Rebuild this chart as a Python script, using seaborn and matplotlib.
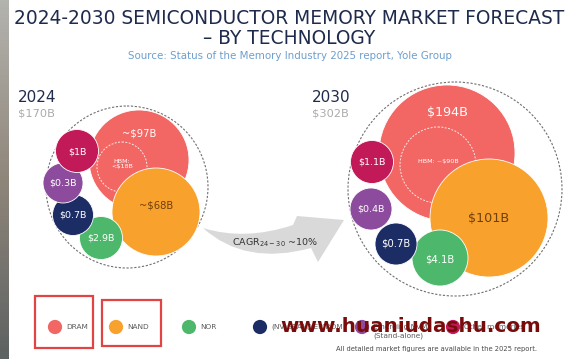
import numpy as np
import matplotlib
matplotlib.use("Agg")
import matplotlib.pyplot as plt
from matplotlib.patches import Circle, PathPatch, Rectangle
from matplotlib.path import Path
from matplotlib.colors import LinearSegmentedColormap
import seaborn as sns
import pandas as pd

sns.set_theme(style="white")
plt.rcParams["font.family"] = ["DejaVu Sans"]

# ---- data -------------------------------------------------------------
techs = ["DRAM", "NAND", "NOR", "(NV)SRAM/(EP)ROM", "Emerging NVM", "Other memories"]
years = ["2024", "2030"]
totals = ["$170B", "$302B"]
labels_2024 = ["~$97B", "~$68B", "$2.9B", "$0.7B", "$0.3B", "$1B"]
labels_2030 = ["$194B", "$101B", "$4.1B", "$0.7B", "$0.4B", "$1.1B"]
hbm_labels = ["HBM:\n<$18B", "HBM: ~$90B"]
cagr_text = r"CAGR$_{\mathregular{24-30}}$ ~10%"

colors = ["#f26663", "#f9a12d", "#4db86b", "#1c2d66", "#8c4b9c", "#c21a59"]
label_colors = ["white", "#6e3f0c", "white", "white", "white", "white"]

# ---- layout (pixel space) --------------------------------------------
# bubble centre x, centre y, radius per technology
pos_2024 = [(139, 160, 50), (156, 212, 44), (101, 238, 21.5), (73, 215, 20.5), (63, 183, 20), (77, 151, 21.5)]
pos_2030 = [(447, 153, 68), (489, 218, 59), (440, 258, 28), (396, 244, 21), (371, 209, 21), (372, 162, 21.5)]
fs_2024 = [7.2, 7.2, 6.8, 6.8, 6.8, 6.8]
fs_2030 = [9.2, 9.2, 7.2, 7.2, 6.8, 6.8]
label_dy_2024 = [-26, -6, 0, 0, 0, 1]
label_dy_2030 = [-40, 0, 1, 0, 0, 0]
hbm_pos = [(122, 167, 25), (438, 165, 38)]
outer = [(127, 187, 81), (455, 189, 107)]
year_xy = [(18, 97), (312, 97)]

fig = plt.figure(figsize=(5.7, 3.59), dpi=100)
ax = fig.add_axes([0, 0, 1, 1])
ax.set_xlim(0, 570)
ax.set_ylim(359, 0)
ax.axis("off")

# grey strip on the left edge of the screenshot
strip = LinearSegmentedColormap.from_list("strip", ["#b3b3ae", "#8f867a", "#5d6262"])
ax.imshow(np.linspace(0, 1, 100).reshape(-1, 1), cmap=strip, aspect="auto",
          extent=(0, 9, 359, 0), zorder=0)

# titles
navy = "#1f2b4c"
ax.text(289, 18, "2024-2030 SEMICONDUCTOR MEMORY MARKET FORECAST", ha="center", va="center",
        fontsize=13.4, color=navy)
ax.text(289.5, 38, "\u2013 BY TECHNOLOGY", ha="center", va="center", fontsize=13.4, color=navy)
ax.text(289.5, 56, "Source: Status of the Memory Industry 2025 report, Yole Group",
        ha="center", va="center", fontsize=7.4, color="#6c9fcf")

# bubble groups
for g, (pos, labs, fss, dys) in enumerate([(pos_2024, labels_2024, fs_2024, label_dy_2024),
                                            (pos_2030, labels_2030, fs_2030, label_dy_2030)]):
    ox, oy, orad = outer[g]
    ax.add_patch(Circle((ox, oy), orad, fill=False, ec="#6f6f6f", lw=0.8, ls=(0, (2, 1.5)), zorder=1))
    for i in [0, 2, 1, 3, 4, 5]:
        x, y, r = pos[i]
        ax.add_patch(Circle((x, y), r, fc=colors[i], ec="white", lw=0.6, zorder=2 + i * 0.1))
        ax.text(x, y + dys[i], labs[i], ha="center", va="center", fontsize=fss[i],
                color=label_colors[i], zorder=4)
        if i == 0:
            hx, hy, hr = hbm_pos[g]
            ax.add_patch(Circle((hx, hy), hr, fill=False, ec="white", lw=0.7,
                                ls=(0, (2, 1.5)), alpha=0.85, zorder=2.05))
            ax.text(hx, hy - 3 if g == 0 else hy - 4, hbm_labels[g], ha="center", va="center",
                    fontsize=4.6, color="white", linespacing=1.2, zorder=4)
    yx, yy = year_xy[g]
    ax.text(yx, yy, years[g], ha="left", va="center", fontsize=11, color=navy, fontweight="medium")
    ax.text(yx, yy + 16, totals[g], ha="left", va="center", fontsize=8.2, color="#ababab")

# curved growth arrow
verts = [(203, 228), (245, 241), (293, 225), (297, 216), (344, 220), (318, 262),
         (311, 248), (245, 266), (203, 228), (203, 228)]
codes = [Path.MOVETO, Path.CURVE3, Path.CURVE3, Path.LINETO, Path.LINETO, Path.LINETO,
         Path.LINETO, Path.CURVE3, Path.CURVE3, Path.CLOSEPOLY]
ax.add_patch(PathPatch(Path(verts, codes), fc="#d9d9d9", ec="none", zorder=1))
ax.text(275, 243, cagr_text, ha="center", va="center", fontsize=6.8, color="#333333", zorder=3)

# legend row
leg = pd.DataFrame({"tech": techs,
                    "x": [55, 116, 189, 260, 362, 453],
                    "y": [327] * 6})
sns.scatterplot(data=leg, x="x", y="y", hue="tech", palette=colors, s=105,
                edgecolor="none", legend=False, ax=ax, zorder=3)
ax.set_xlim(0, 570)
ax.set_ylim(359, 0)
ax.axis("off")
for t, x in zip(techs, leg["x"]):
    ax.text(x + 11, 327, t, ha="left", va="center", fontsize=5.3, color="#5a5a5a")
ax.text(373, 336, "(Stand-alone)", ha="left", va="center", fontsize=5.3, color="#5a5a5a")
ax.text(537, 349, "All detailed market figures are available in the 2025 report.",
        ha="right", va="center", fontsize=4.9, color="#4a4a4a")

# highlight boxes
for (x0, y0, x1, y1) in [(35, 296, 93, 348), (102, 300, 161, 346)]:
    ax.add_patch(Rectangle((x0, y0), x1 - x0, y1 - y0, fill=False, ec="#e24443", lw=1.6, zorder=5))

# watermark
ax.text(411, 326, "www.huaniudashu.com", ha="center", va="center", fontsize=14.4,
        fontweight="bold", color="#7a0b0b", zorder=6)

fig.savefig("out.png", dpi=100, facecolor="white")
